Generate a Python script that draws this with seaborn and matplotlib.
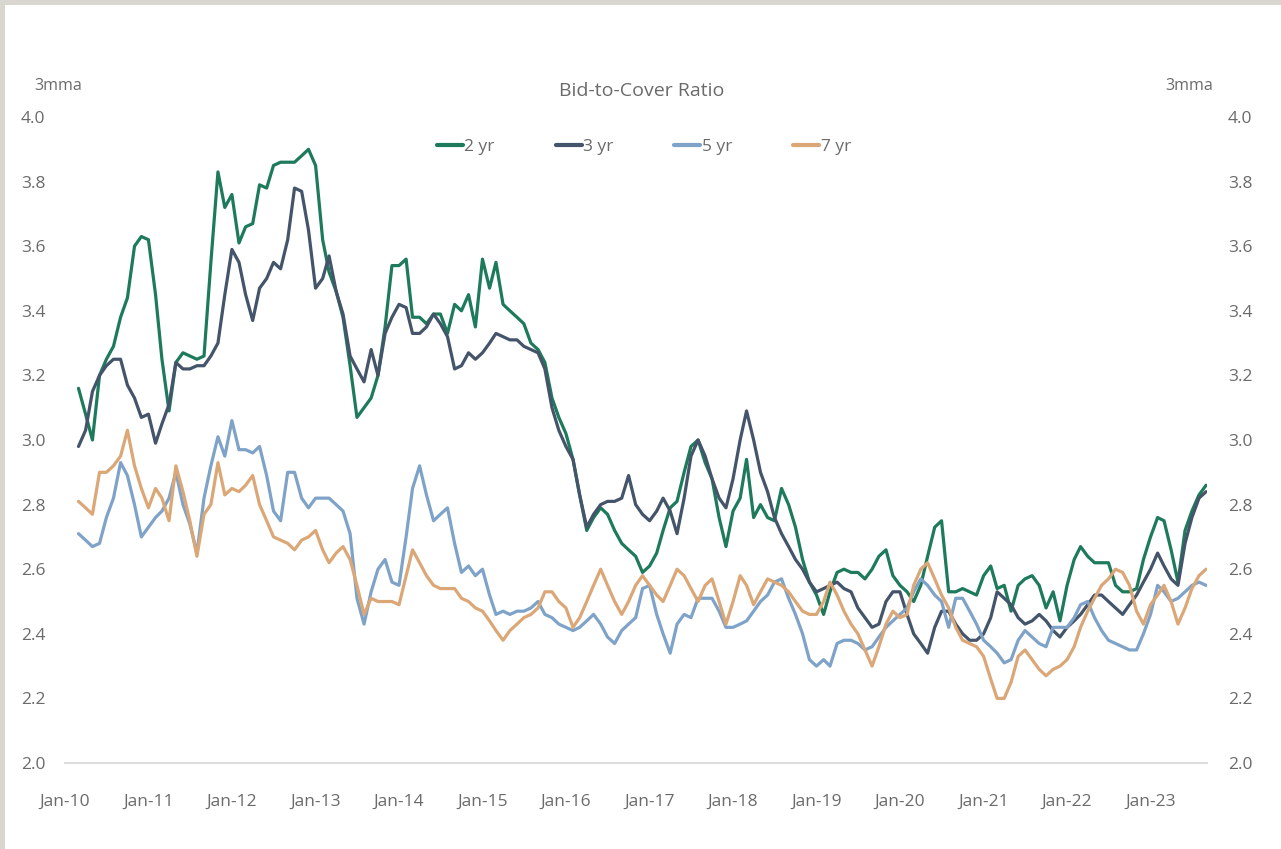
import pandas as pd
import seaborn as sns
import matplotlib.pyplot as plt
import matplotlib.dates as mdates
from matplotlib.patches import Rectangle

# 3-month moving averages of bid-to-cover, monthly from Mar-2010 to Sep-2023
start_month = "2010-03-01"

two_yr = [
    3.16, 3.08, 3.00, 3.20, 3.25, 3.29, 3.38, 3.44, 3.60, 3.63,              # 2010
    3.62, 3.45, 3.25, 3.09, 3.24, 3.27, 3.26, 3.25, 3.26, 3.55, 3.83, 3.72,  # 2011
    3.76, 3.61, 3.66, 3.67, 3.79, 3.78, 3.85, 3.86, 3.86, 3.86, 3.88, 3.90,  # 2012
    3.85, 3.62, 3.52, 3.46, 3.38, 3.23, 3.07, 3.10, 3.13, 3.20, 3.35, 3.54,  # 2013
    3.54, 3.56, 3.38, 3.38, 3.36, 3.39, 3.39, 3.33, 3.42, 3.40, 3.45, 3.35,  # 2014
    3.56, 3.47, 3.55, 3.42, 3.40, 3.38, 3.36, 3.30, 3.28, 3.24, 3.13, 3.07,  # 2015
    3.02, 2.94, 2.83, 2.72, 2.76, 2.79, 2.77, 2.72, 2.68, 2.66, 2.64, 2.59,  # 2016
    2.61, 2.65, 2.72, 2.79, 2.81, 2.90, 2.98, 3.00, 2.93, 2.88, 2.76, 2.67,  # 2017
    2.78, 2.82, 2.94, 2.76, 2.80, 2.76, 2.75, 2.85, 2.80, 2.73, 2.63, 2.56,  # 2018
    2.52, 2.46, 2.53, 2.59, 2.60, 2.59, 2.59, 2.57, 2.60, 2.64, 2.66, 2.58,  # 2019
    2.55, 2.53, 2.50, 2.55, 2.64, 2.73, 2.75, 2.53, 2.53, 2.54, 2.53, 2.52,  # 2020
    2.58, 2.61, 2.54, 2.55, 2.47, 2.55, 2.57, 2.58, 2.55, 2.48, 2.53, 2.44,  # 2021
    2.55, 2.63, 2.67, 2.64, 2.62, 2.62, 2.62, 2.55, 2.53, 2.53, 2.54, 2.63,  # 2022
    2.70, 2.76, 2.75, 2.66, 2.56, 2.72, 2.78, 2.83, 2.86,                    # 2023
]

three_yr = [
    2.98, 3.03, 3.15, 3.20, 3.23, 3.25, 3.25, 3.17, 3.13, 3.07,
    3.08, 2.99, 3.05, 3.11, 3.24, 3.22, 3.22, 3.23, 3.23, 3.26, 3.30, 3.45,
    3.59, 3.55, 3.45, 3.37, 3.47, 3.50, 3.55, 3.53, 3.62, 3.78, 3.77, 3.65,
    3.47, 3.50, 3.57, 3.46, 3.39, 3.26, 3.22, 3.18, 3.28, 3.20, 3.33, 3.38,
    3.42, 3.41, 3.33, 3.33, 3.35, 3.39, 3.36, 3.32, 3.22, 3.23, 3.27, 3.25,
    3.27, 3.30, 3.33, 3.32, 3.31, 3.31, 3.29, 3.28, 3.27, 3.22, 3.10, 3.03,
    2.98, 2.94, 2.83, 2.73, 2.77, 2.80, 2.81, 2.81, 2.82, 2.89, 2.80, 2.77,
    2.75, 2.78, 2.82, 2.78, 2.71, 2.82, 2.95, 3.00, 2.95, 2.88, 2.82, 2.79,
    2.88, 3.00, 3.09, 3.00, 2.90, 2.84, 2.76, 2.71, 2.67, 2.63, 2.60, 2.56,
    2.53, 2.54, 2.55, 2.56, 2.54, 2.53, 2.48, 2.45, 2.42, 2.43, 2.50, 2.53,
    2.53, 2.46, 2.40, 2.37, 2.34, 2.42, 2.47, 2.47, 2.43, 2.40, 2.38, 2.38,
    2.40, 2.45, 2.53, 2.51, 2.49, 2.45, 2.43, 2.44, 2.46, 2.44, 2.41, 2.39,
    2.42, 2.44, 2.46, 2.49, 2.52, 2.52, 2.50, 2.48, 2.46, 2.49, 2.52, 2.56,
    2.60, 2.65, 2.61, 2.57, 2.55, 2.68, 2.76, 2.82, 2.84,
]

five_yr = [
    2.71, 2.69, 2.67, 2.68, 2.76, 2.82, 2.93, 2.89, 2.80, 2.70,
    2.73, 2.76, 2.78, 2.82, 2.90, 2.80, 2.74, 2.65, 2.82, 2.92, 3.01, 2.95,
    3.06, 2.97, 2.97, 2.96, 2.98, 2.89, 2.78, 2.75, 2.90, 2.90, 2.82, 2.79,
    2.82, 2.82, 2.82, 2.80, 2.78, 2.71, 2.51, 2.43, 2.53, 2.60, 2.63, 2.56,
    2.55, 2.70, 2.85, 2.92, 2.83, 2.75, 2.77, 2.79, 2.68, 2.59, 2.61, 2.58,
    2.60, 2.52, 2.46, 2.47, 2.46, 2.47, 2.47, 2.48, 2.50, 2.46, 2.45, 2.43,
    2.42, 2.41, 2.42, 2.44, 2.46, 2.43, 2.39, 2.37, 2.41, 2.43, 2.45, 2.54,
    2.55, 2.46, 2.40, 2.34, 2.43, 2.46, 2.45, 2.51, 2.51, 2.51, 2.47, 2.42,
    2.42, 2.43, 2.44, 2.47, 2.50, 2.52, 2.56, 2.57, 2.51, 2.46, 2.40, 2.32,
    2.30, 2.32, 2.30, 2.37, 2.38, 2.38, 2.37, 2.35, 2.36, 2.39, 2.42, 2.44,
    2.46, 2.48, 2.53, 2.57, 2.55, 2.52, 2.50, 2.42, 2.51, 2.51, 2.47, 2.43,
    2.38, 2.36, 2.34, 2.31, 2.32, 2.38, 2.41, 2.39, 2.37, 2.36, 2.42, 2.42,
    2.42, 2.45, 2.49, 2.50, 2.45, 2.41, 2.38, 2.37, 2.36, 2.35, 2.35, 2.40,
    2.46, 2.55, 2.53, 2.50, 2.51, 2.53, 2.55, 2.56, 2.55,
]

seven_yr = [
    2.81, 2.79, 2.77, 2.90, 2.90, 2.92, 2.95, 3.03, 2.92, 2.85,
    2.79, 2.85, 2.82, 2.75, 2.92, 2.84, 2.75, 2.64, 2.77, 2.80, 2.93, 2.83,
    2.85, 2.84, 2.86, 2.89, 2.80, 2.75, 2.70, 2.69, 2.68, 2.66, 2.69, 2.70,
    2.72, 2.66, 2.62, 2.65, 2.67, 2.63, 2.55, 2.46, 2.51, 2.50, 2.50, 2.50,
    2.49, 2.58, 2.66, 2.62, 2.58, 2.55, 2.54, 2.54, 2.54, 2.51, 2.50, 2.48,
    2.47, 2.44, 2.41, 2.38, 2.41, 2.43, 2.45, 2.46, 2.48, 2.53, 2.53, 2.50,
    2.48, 2.42, 2.45, 2.50, 2.55, 2.60, 2.55, 2.50, 2.46, 2.50, 2.55, 2.58,
    2.55, 2.52, 2.50, 2.55, 2.60, 2.58, 2.54, 2.50, 2.55, 2.57, 2.50, 2.43,
    2.50, 2.58, 2.55, 2.49, 2.53, 2.57, 2.56, 2.55, 2.53, 2.50, 2.47, 2.46,
    2.46, 2.50, 2.56, 2.52, 2.47, 2.43, 2.40, 2.35, 2.30, 2.36, 2.43, 2.47,
    2.45, 2.46, 2.55, 2.60, 2.62, 2.57, 2.52, 2.48, 2.42, 2.38, 2.37, 2.36,
    2.33, 2.26, 2.20, 2.20, 2.25, 2.33, 2.35, 2.32, 2.29, 2.27, 2.29, 2.30,
    2.32, 2.36, 2.42, 2.47, 2.51, 2.55, 2.57, 2.60, 2.59, 2.55, 2.47, 2.43,
    2.49, 2.52, 2.55, 2.50, 2.43, 2.48, 2.54, 2.58, 2.60,
]

series_names = ["2 yr", "3 yr", "5 yr", "7 yr"]
series_colors = ["#1d7a5b", "#44546a", "#7fa3c8", "#dba777"]
y_ticks = [2.0, 2.2, 2.4, 2.6, 2.8, 3.0, 3.2, 3.4, 3.6, 3.8, 4.0]

dates = pd.date_range(start_month, periods=len(two_yr), freq="MS")
df = pd.DataFrame({"date": dates, "2 yr": two_yr, "3 yr": three_yr,
                   "5 yr": five_yr, "7 yr": seven_yr})
long_df = df.melt(id_vars="date", var_name="tenor", value_name="ratio")

sns.set_style("white")
plt.rcParams["font.family"] = ["Open Sans", "DejaVu Sans"]
text_grey = "#6b6b6b"

fig = plt.figure(figsize=(12.81, 8.49), dpi=100, facecolor="#d9d6d0")
# white card inside the grey frame
fig.add_artist(Rectangle((5 / 1281, 0), 1, 1 - 5 / 849, transform=fig.transFigure,
                         facecolor="white", edgecolor="none", zorder=0))

ax = fig.add_axes([65 / 1281, 86 / 849, (1207 - 65) / 1281, (763 - 117) / 849])
ax.set_facecolor("none")

sns.lineplot(data=long_df, x="date", y="ratio", hue="tenor", hue_order=series_names,
             palette=series_colors, linewidth=2.3, ax=ax, legend=False)

ax.set_ylim(2.0, 4.0)
ax.set_xlim(pd.Timestamp("2010-01-01"), pd.Timestamp("2023-09-05"))
ax.set_yticks(y_ticks)
ax.set_yticklabels([f"{t:.1f}" for t in y_ticks])
ax.xaxis.set_major_locator(mdates.MonthLocator(bymonth=1))
ax.xaxis.set_major_formatter(mdates.DateFormatter("%b-%y"))
ax.set_xlabel("")
ax.set_ylabel("")

for side in ["top", "right", "left"]:
    ax.spines[side].set_visible(False)
ax.spines["bottom"].set_color("#d9d9d9")
ax.spines["bottom"].set_linewidth(1.3)

ax.tick_params(axis="x", length=4, width=1, color="#d9d9d9", pad=18,
               labelsize=12.5, labelcolor=text_grey)
ax.tick_params(axis="y", length=0, pad=14, labelsize=12.5, labelcolor=text_grey)

# secondary axis mirrors the same scale
ax2 = ax.twinx()
ax2.set_ylim(ax.get_ylim())
ax2.set_yticks(y_ticks)
ax2.set_yticklabels([f"{t:.1f}" for t in y_ticks])
ax2.tick_params(axis="y", length=0, pad=15, labelsize=12.5, labelcolor=text_grey)
for side in ["top", "right", "left", "bottom"]:
    ax2.spines[side].set_visible(False)

fig.text(642 / 1281, 1 - 91 / 849, "Bid-to-Cover Ratio", ha="center", va="center",
         fontsize=14, color=text_grey)
fig.text(58 / 1281, 1 - 86 / 849, "3mma", ha="center", va="center",
         fontsize=11.5, color=text_grey)
fig.text(1189 / 1281, 1 - 86 / 849, "3mma", ha="center", va="center",
         fontsize=11.5, color=text_grey)

handles = [plt.Line2D([], [], color=c, linewidth=3) for c in series_colors]
fig.legend(handles, series_names, loc="center", bbox_to_anchor=(644 / 1281, 1 - 147 / 849),
           ncol=4, frameon=False, fontsize=12.5, handlelength=1.5, handletextpad=0.1,
           columnspacing=3.5, labelcolor=text_grey)

fig.savefig("out.png", dpi=100, facecolor=fig.get_facecolor())
